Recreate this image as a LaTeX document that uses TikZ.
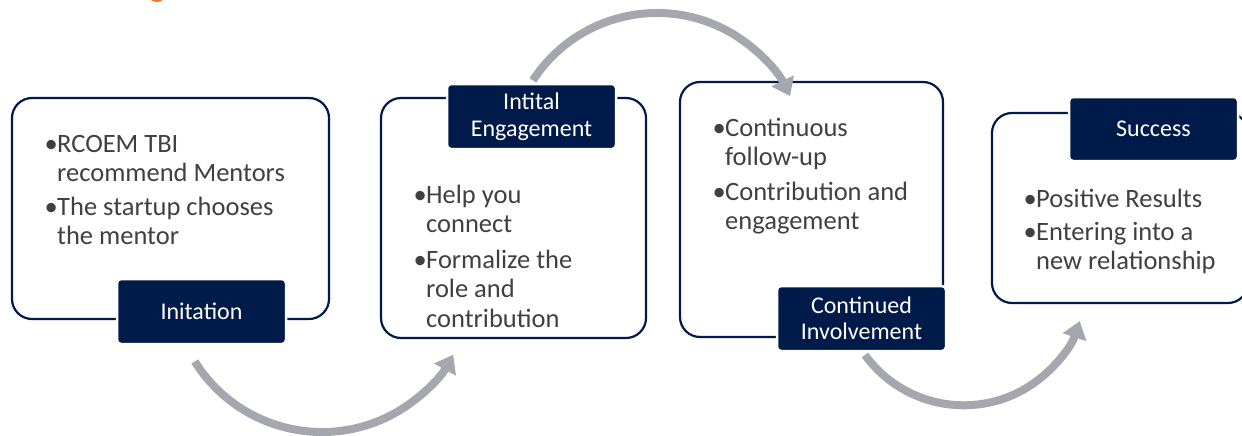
\documentclass[tikz,border=0pt]{standalone}
\usepackage{fontspec}
\setmainfont{Carlito}
\usetikzlibrary{arrows.meta}
\definecolor{navy}{RGB}{0,26,74}
\definecolor{arcgray}{RGB}{166,166,174}
\definecolor{txtgray}{RGB}{64,64,64}
\definecolor{titleorange}{RGB}{237,125,49}
\newcommand{\bitem}[1]{\par\hangindent=10pt\hangafter=1\noindent\makebox[10pt][l]{\hspace{-2.5pt}•}#1}
\newcommand{\bullets}[3]{\parbox[t]{#1}{\parskip=#2\relax #3\par}}
\tikzset{
  stagebox/.style={draw=navy, line width=2.2pt, rounded corners=20pt, fill=white, inner sep=0pt},
  stagelabel/.style={draw=white, line width=2.5pt, fill=navy, rounded corners=4pt, text=white,
     minimum width=169pt, minimum height=65pt, inner sep=0pt, align=center,
     font=\fontsize{24}{26.5}\selectfont},
  bullettext/.style={text=txtgray, inner sep=0pt, anchor=base west,
     font=\fontsize{26.5}{29.5}\selectfont},
  cyclearrow/.style={draw=arcgray, line width=8pt, -{Triangle[width=24pt,length=17pt]}}
}
\begin{document}
\begin{tikzpicture}[x=1pt,y=1pt]
\useasboundingbox (0,0) rectangle (1242,-436);
\fill[titleorange] (157,2.5) ellipse (7 and 4.5);

% outer boxes
\node[stagebox, minimum width=317pt, minimum height=221pt] (b1) at (170.5,-208.5) {};
\node[stagebox, minimum width=265pt, minimum height=240pt] (b2) at (513.5,-218) {};
\node[stagebox, minimum width=263pt, minimum height=255pt] (b3) at (811.5,-209.5) {};
\node[stagebox, minimum width=256pt, minimum height=190pt] (b4) at (1120,-208) {};

% arrows
\coordinate (a1s) at (194.8,-361.5);
\coordinate (a2s) at (532.9,-80.4);
\coordinate (a3s) at (865,-355);
\draw[cyclearrow] (a1s) arc[start angle=212, end angle=331, radius=150];
\draw[cyclearrow] (a2s) arc[start angle=147, end angle=26, radius=148];
\draw[cyclearrow] (a3s) arc[start angle=216, end angle=342, radius=122];

% labels
\node[stagelabel] (l1) at (201.5,-311.5) {Initation};
\node[stagelabel] (l2) at (531.5,-116.5) {Intital\\Engagement};
\node[stagelabel] (l3) at (861.5,-318.5) {Continued\\Involvement};
\node[stagelabel, minimum height=64pt] (l4) at (1153.5,-129) {Success};

% bullet texts
\node[bullettext] (t1) at (47,-152) {\bullets{280pt}{4pt}{%
  \bitem{RCOEM TBI\newline recommend Mentors}%
  \bitem{The startup chooses\newline the mentor}}};
\node[bullettext] (t2) at (416,-203) {\bullets{230pt}{6pt}{%
  \bitem{Help you\newline connect}%
  \bitem{Formalize the\newline role and\newline contribution}}};
\node[bullettext] (t3) at (715,-136) {\bullets{230pt}{5pt}{%
  \bitem{Continuous\newline follow-up}%
  \bitem{Contribution and\newline engagement}}};
\node[bullettext] (t4) at (1026,-207) {\bullets{210pt}{3.5pt}{%
  \bitem{Positive Results}%
  \bitem{Entering into a\newline new relationship}}};
\end{tikzpicture}
\end{document}
